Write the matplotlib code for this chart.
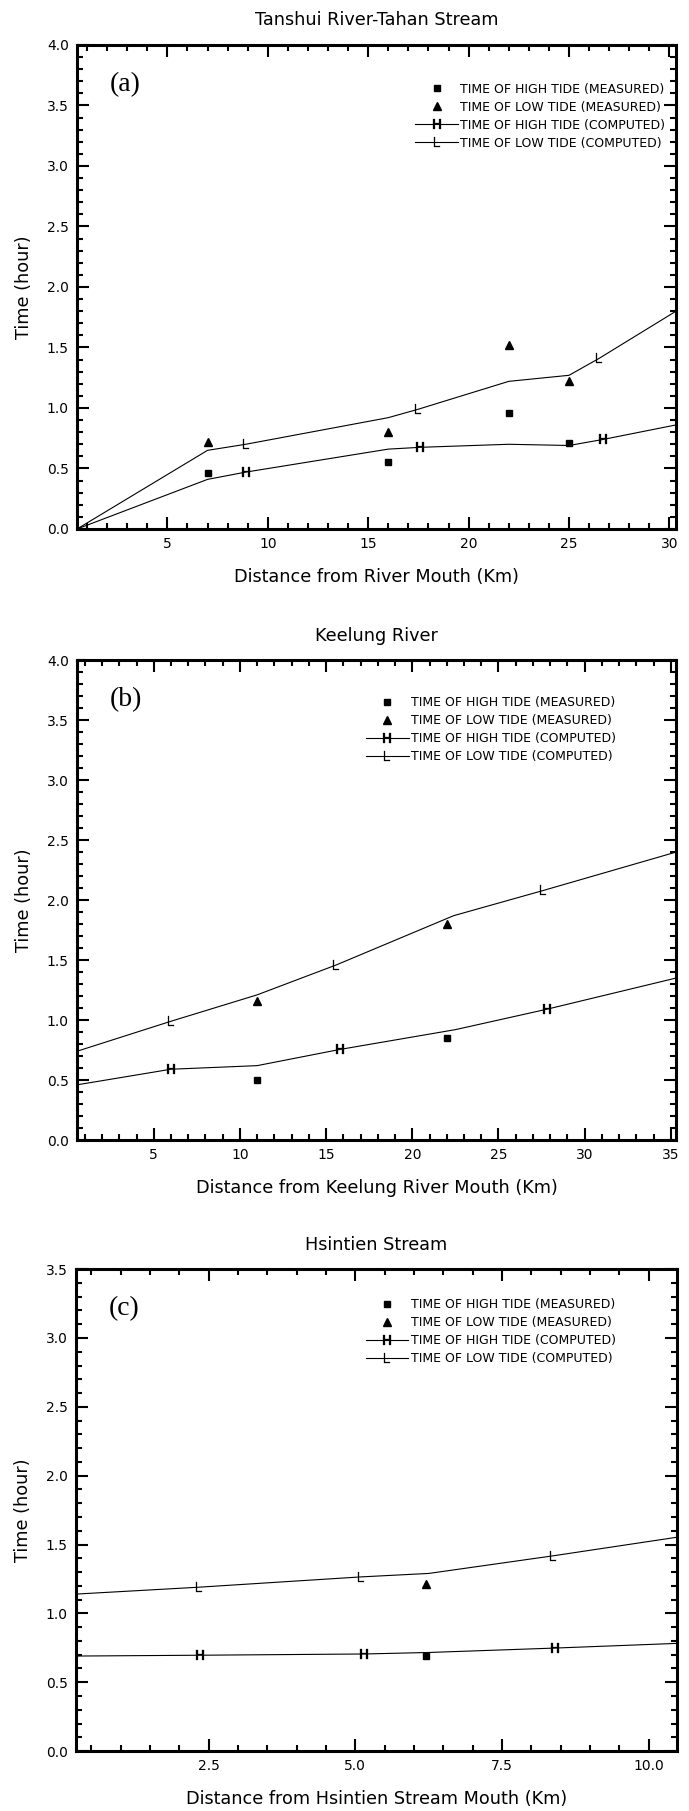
import matplotlib
matplotlib.use("Agg")
import matplotlib.pyplot as plt
from matplotlib.ticker import MultipleLocator, FormatStrFormatter

# (a) Tanshui River - Tahan Stream
a_meas_x = [7, 16, 22, 25]
a_high_meas = [0.46, 0.55, 0.96, 0.71]
a_low_meas = [0.72, 0.80, 1.52, 1.22]
a_high_x = [0.5, 7, 8.9, 16, 17.6, 22, 25, 26.7, 30.33]
a_high = [0.0, 0.41, 0.47, 0.66, 0.675, 0.70, 0.69, 0.74, 0.86]
a_low_x = [0.5, 7, 8.9, 16, 17.5, 22, 25, 26.5, 30.33]
a_low = [0.0, 0.65, 0.70, 0.92, 0.99, 1.22, 1.27, 1.41, 1.80]
a_marks = [2, 4, 7]

# (b) Keelung River
b_meas_x = [11, 22]
b_high_meas = [0.50, 0.85]
b_low_meas = [1.16, 1.80]
b_high_x = [0.55, 6.0, 11.0, 15.8, 22.5, 27.8, 35.3]
b_high = [0.46, 0.59, 0.62, 0.755, 0.92, 1.09, 1.35]
b_low_x = [0.55, 6.0, 11.0, 15.6, 22.4, 27.6, 35.3]
b_low = [0.74, 0.99, 1.21, 1.46, 1.87, 2.08, 2.40]
b_marks = [1, 3, 5]

# (c) Hsintien Stream
c_meas_x = [6.2]
c_high_meas = [0.69]
c_low_meas = [1.21]
c_high_x = [0.24, 2.35, 5.15, 6.25, 8.4, 10.48]
c_high = [0.69, 0.696, 0.705, 0.716, 0.748, 0.782]
c_low_x = [0.24, 2.33, 5.1, 6.25, 8.37, 10.48]
c_low = [1.14, 1.19, 1.265, 1.29, 1.418, 1.553]
c_marks = [1, 2, 4]

labels = ["TIME OF HIGH TIDE (MEASURED)", "TIME OF LOW TIDE (MEASURED)",
          "TIME OF HIGH TIDE (COMPUTED)", "TIME OF LOW TIDE (COMPUTED)"]

fig = plt.figure(figsize=(6.89, 18.11), dpi=100)


def panel(rect, title, tag, xlabel, meas_x, high_meas, low_meas,
          high_x, high, low_x, low, marks, xlim, ylim, xmaj, xmin, xfmt, leg_anchor):
    ax = fig.add_axes(rect)
    ax.plot(meas_x, high_meas, 's', color='k', markersize=5, label=labels[0])
    ax.plot(meas_x, low_meas, '^', color='k', markersize=6, label=labels[1])
    ax.plot(high_x, high, '-', color='k', lw=0.8, marker=r'$\mathsf{H}$',
            markersize=7, mew=0.2, markevery=marks, label=labels[2])
    ax.plot(low_x, low, '-', color='k', lw=0.8, marker=r'$\mathsf{L}$',
            markersize=7, mew=0.2, markevery=marks, label=labels[3])

    ax.set_xlim(*xlim)
    ax.set_ylim(*ylim)
    ax.xaxis.set_major_locator(MultipleLocator(xmaj))
    ax.xaxis.set_minor_locator(MultipleLocator(xmin))
    ax.xaxis.set_major_formatter(FormatStrFormatter(xfmt))
    ax.yaxis.set_major_locator(MultipleLocator(0.5))
    ax.yaxis.set_minor_locator(MultipleLocator(0.1))
    ax.yaxis.set_major_formatter(FormatStrFormatter('%.1f'))
    ax.tick_params(which='both', direction='in', top=True, right=True,
                   labelsize=10, pad=6)
    ax.tick_params(which='major', length=8.4, width=1.5)
    ax.tick_params(which='minor', length=4.3, width=1.5)
    for s in ax.spines.values():
        s.set_linewidth(2.2)

    ax.set_title(title, fontsize=12.7, pad=14)
    ax.set_xlabel(xlabel, fontsize=12.7, labelpad=12)
    ax.set_ylabel("Time (hour)", fontsize=12.7, labelpad=10)
    ax.text(0.055, 0.918, tag, transform=ax.transAxes, fontsize=20,
            family='Liberation Serif', ha='left', va='center')

    ax.legend(loc='upper right', bbox_to_anchor=leg_anchor, frameon=False,
              fontsize=9, handlelength=3.4, handletextpad=0.2,
              labelspacing=0.4, borderpad=0, borderaxespad=0)
    return ax


panel([0.1118, 0.7079, 0.8694, 0.2673], "Tanshui River-Tahan Stream", "(a)",
      "Distance from River Mouth (Km)", a_meas_x, a_high_meas, a_low_meas,
      a_high_x, a_high, a_low_x, a_low, a_marks, (0.5, 30.33), (0, 4.0),
      5, 1, '%d', (0.982, 0.922))

panel([0.1118, 0.3705, 0.8694, 0.2650], "Keelung River", "(b)",
      "Distance from Keelung River Mouth (Km)", b_meas_x, b_high_meas, b_low_meas,
      b_high_x, b_high, b_low_x, b_low, b_marks, (0.55, 35.3), (0, 4.0),
      5, 1, '%d', (0.90, 0.925))

panel([0.1103, 0.0331, 0.8723, 0.2661], "Hsintien Stream", "(c)",
      "Distance from Hsintien Stream Mouth (Km)", c_meas_x, c_high_meas, c_low_meas,
      c_high_x, c_high, c_low_x, c_low, c_marks, (0.24, 10.48), (0, 3.5),
      2.5, 0.5, '%.1f', (0.898, 0.94))

plt.savefig('out.png', dpi=100)
